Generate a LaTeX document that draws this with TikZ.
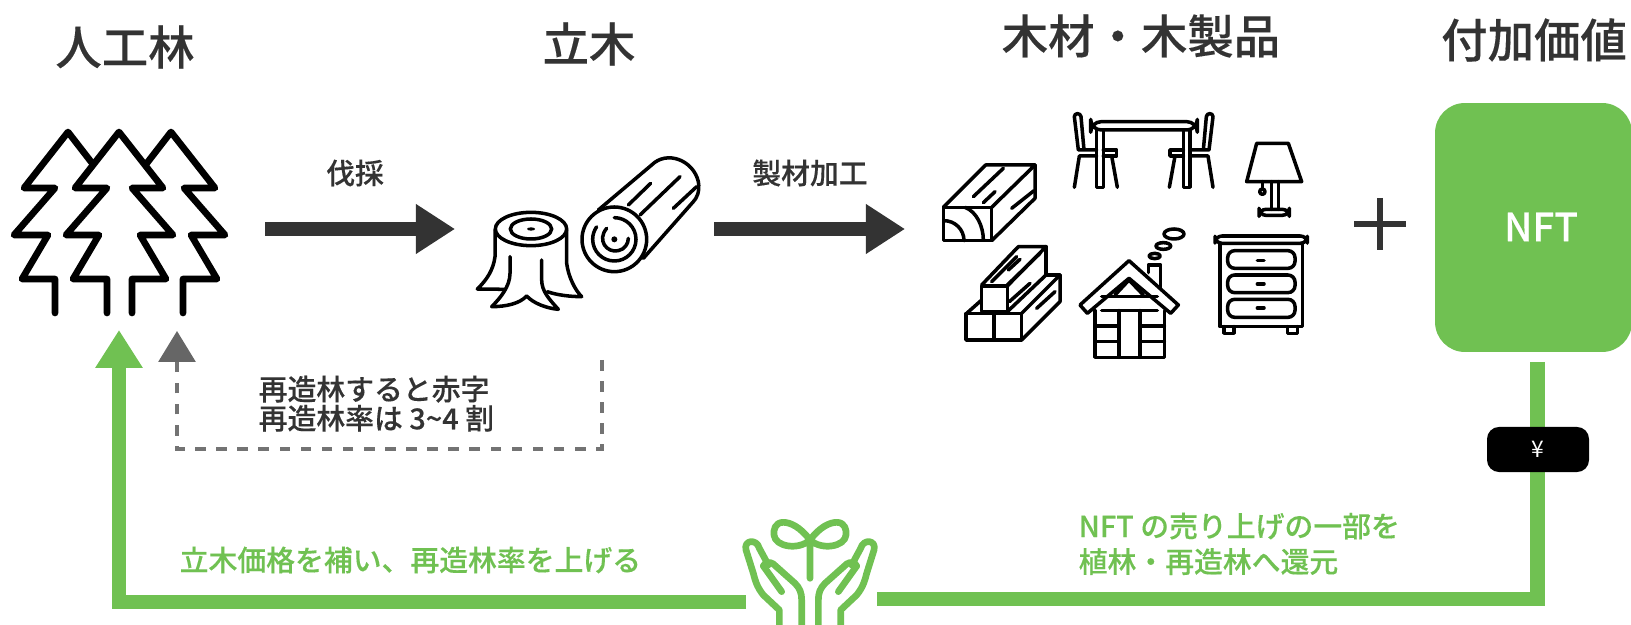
\documentclass[tikz,border=0pt]{standalone}
\usepackage{fontspec}
\setmainfont{Noto Sans CJK JP}[BoldFont={Noto Sans CJK JP Medium},BoldFeatures={FakeBold=0.25}]
\usetikzlibrary{arrows.meta}
\definecolor{leaf}{RGB}{112,193,82}
\definecolor{ink}{RGB}{51,51,51}
\tikzset{
	title/.style={text=ink,font=\fontsize{13.2}{15}\selectfont\bfseries,inner sep=0pt},
	caption/.style={text=ink,font=\fontsize{8.2}{8.3}\selectfont\bfseries,inner sep=0pt,align=left},
	leaftext/.style={text=leaf,font=\fontsize{8.2}{10.1}\selectfont\bfseries,inner sep=0pt,align=left},
	flow/.style={ink,line width=4pt,-{Triangle[length=11.1pt,width=13.4pt]}},
	giveback/.style={leaf,line width=4pt},
	icon/.style={line width=1.9pt,line join=round,line cap=round},
	fine/.style={line width=1pt,line join=round,line cap=round},
	sprout/.style={leaf,line width=1.9pt,line join=round,line cap=round},
}
\begin{document}
\begin{tikzpicture}[x=0.01cm,y=-0.01cm]
	\useasboundingbox (0,0) rectangle (1631,625);

	\node[title] (forest) at (125,47) {人工林};
	\node[title] (standing) at (589,44) {立木};
	\node[title] (timber) at (1141,36) {木材・木製品};
	\node[title] (value) at (1534,40) {付加価値};

	\draw[icon] (92,163) -- (68,132) -- (24,188) -- (55,188) -- (14,235) -- (48,235) -- (22,279) -- (55,279) -- (55,313);
	\draw[icon] (147,163) -- (171,132) -- (215,188) -- (184,188) -- (225,235) -- (191,235) -- (217,279) -- (183,279) -- (183,313);
	\draw[icon] (107,313) -- (107,279) -- (73,279) -- (99,235) -- (66,235) -- (107,188) -- (75,188) -- (119,132) -- (163,188) -- (132,188) -- (173,235) -- (140,235) -- (166,279) -- (132,279) -- (132,313);

	\coordinate (cutfrom) at (265,229);
	\coordinate (cutto) at (455,229);
	\node[caption] (cut) at (355,173) {伐採};
	\draw[flow] (cutfrom) -- (cutto);

	\begin{scope}[shift={(460,150)},scale=1/3]
		\draw[fine] (213,237) circle[x radius=107,y radius=50];
		\draw[fine] (213,237) circle[x radius=62,y radius=30];
		\fill (213,237) circle[x radius=12,y radius=5];
		\draw[fine] (105,240) -- (105,320) .. controls (100,360) and (80,390) .. (52,417) -- (135,418);
		\draw[fine] (150,320) -- (150,370) .. controls (150,410) and (120,445) .. (95,470) .. controls (140,470) and (180,460) .. (200,438) .. controls (220,460) and (260,475) .. (295,478) .. controls (270,450) and (245,425) .. (245,390) -- (245,330);
		\draw[fine] (320,240) -- (320,340) .. controls (325,380) and (345,420) .. (365,440) .. controls (330,440) and (290,435) .. (262,425);
		\draw[fine] (463,268) circle[radius=97];
		\draw[fine] (463,203) arc[start angle=-90,end angle=215,radius=65];
		\draw[fine] (440,235) .. controls (410,270) and (440,310) .. (475,302) .. controls (495,298) and (505,280) .. (505,265);
		\fill (463,268) circle[radius=9];
		\draw[fine] (415,180) -- (575,45) .. controls (620,0) and (700,30) .. (715,95) .. controls (720,125) and (710,145) .. (700,155) -- (550,325);
		\draw[fine] (505,165) -- (572,100);
		\draw[fine] (540,195) -- (660,80);
		\draw[fine] (640,175) -- (710,110);
	\end{scope}

	\coordinate (sawfrom) at (714,229);
	\coordinate (sawto) at (905,229);
	\node[caption] (saw) at (810,173) {製材加工};
	\draw[flow] (sawfrom) -- (sawto);

	\begin{scope}[shift={(920,100)},scale=1/3]
		\draw[fine] (70,322) rectangle (215,422);
		\draw[fine] (70,322) -- (197,195) -- (345,195) -- (215,322);
		\draw[fine] (345,195) -- (345,295) -- (215,422);
		\draw[fine] (72,362) arc[start angle=-90,end angle=0,radius=60];
		\draw[fine] (135,322) .. controls (170,335) and (190,380) .. (190,420);
		\draw[fine] (160,290) -- (250,205);
		\draw[fine] (190,308) -- (225,275);
		\draw[fine] (275,325) -- (342,272);

		\draw[fine,rounded corners=3pt] (512,65) rectangle (832,90);
		\draw[fine] (530,90) -- (530,262) -- (550,262) -- (550,90);
		\draw[fine] (790,90) -- (790,262) -- (810,262) -- (810,90);
		\draw[fine] (530,150) -- (475,150) -- (463,50) .. controls (463,38) and (482,38) .. (483,50) -- (492,150) -- (530,150);
		\draw[fine] (550,150) -- (590,150) -- (590,168) -- (550,168);
		\draw[fine] (530,168) -- (478,168) -- (463,262);
		\draw[fine] (575,168) -- (592,262);
		\draw[fine] (810,150) -- (867,150) -- (879,50) .. controls (879,38) and (860,38) .. (859,50) -- (850,150) -- (810,150);
		\draw[fine] (790,150) -- (750,150) -- (750,168) -- (790,168);
		\draw[fine] (810,168) -- (864,168) -- (879,262);
		\draw[fine] (765,168) -- (748,262);

		\draw[fine] (1010,130) -- (1105,130) -- (1145,245) -- (980,245) -- cycle;
		\draw[fine] (1055,245) -- (1055,328);
		\draw[fine] (1075,245) -- (1075,328);
		\draw[fine,rounded corners=2pt] (1017,328) rectangle (1108,346);
		\draw[fine] (1027,245) -- (1027,266);
		\draw[fine] (1027,275) circle[radius=8];

		\draw[fine,rounded corners=2pt] (885,408) rectangle (1162,430);
		\draw[fine] (900,430) -- (900,680) -- (1148,680) -- (1148,430);
		\draw[fine,rounded corners=2pt] (923,452) rectangle (1125,505);
		\draw[fine,rounded corners=2pt] (923,525) rectangle (1125,578);
		\draw[fine,rounded corners=2pt] (923,598) rectangle (1125,652);
		\draw[fine] (1012,481) -- (1032,481);
		\draw[fine] (1012,552) -- (1032,552);
		\draw[fine] (1012,624) -- (1032,624);
		\draw[fine] (912,680) -- (912,700) -- (942,700) -- (942,680);
		\draw[fine] (1103,680) -- (1103,700) -- (1133,700) -- (1133,680);

		\draw[fine] (627,482) -- (480,615) -- (502,640) -- (627,535) -- (752,640) -- (775,615) -- cycle;
		\draw[fine] (525,632) -- (525,772) -- (733,772) -- (733,632);
		\draw[fine] (545,632) -- (712,632);
		\draw[fine] (545,590) -- (712,590);
		\draw[fine] (585,585) -- (627,540) -- (670,585);
		\draw[fine] (597,632) -- (597,772);
		\draw[fine] (660,632) -- (660,772);
		\draw[fine] (525,678) -- (597,678);
		\draw[fine] (660,678) -- (733,678);
		\draw[fine] (525,725) -- (597,725);
		\draw[fine] (660,725) -- (733,725);
		\draw[fine] (685,518) -- (685,495) -- (722,495) -- (722,565);
		\draw[fine] (704,468) circle[x radius=17,y radius=8];
		\draw[fine] (730,438) circle[x radius=22,y radius=10];
		\draw[fine] (762,402) circle[x radius=30,y radius=15];

		\draw[fine] (138,640) rectangle (305,720);
		\draw[fine] (222,640) -- (222,720);
		\draw[fine] (185,558) rectangle (262,635);
		\draw[fine] (185,555) -- (295,440) -- (378,440) -- (262,558);
		\draw[fine] (378,440) -- (378,525);
		\draw[fine] (262,635) -- (378,525) -- (420,525) -- (305,640);
		\draw[fine] (420,525) -- (420,605) -- (305,720);
		\draw[fine] (140,640) -- (185,600);
		\draw[fine] (215,545) -- (290,470);
		\draw[fine] (262,555) -- (360,460);
		\draw[fine] (265,510) -- (300,478);
		\draw[fine] (268,605) -- (330,550);
		\draw[fine] (350,625) -- (405,575);
	\end{scope}

	\coordinate (plusleft) at (1354,224);
	\coordinate (plusright) at (1406,224);
	\coordinate (plustop) at (1380,198);
	\coordinate (plusbottom) at (1380,250);
	\draw[ink,line width=1.6pt] (plusleft) -- (plusright);
	\draw[ink,line width=1.6pt] (plustop) -- (plusbottom);

	\node[fill=leaf,rounded corners=8.5pt,minimum width=56pt,minimum height=70.8pt,inner sep=0pt] (nft) at (1533.5,227.5) {};
	\node[text=white,inner sep=0pt,font=\fontsize{11}{13}\selectfont\bfseries] (nftname) at (1541,227) {NFT};

	\coordinate (payfrom) at (1537.5,362);
	\coordinate (paycorner) at (1537.5,599);
	\coordinate (payto) at (877,599);
	\draw[giveback] (payfrom) -- (paycorner) -- (payto);
	\node[fill=black,rounded corners=3.4pt,minimum width=29pt,minimum height=12.8pt,inner sep=0pt,text=white,font=\fontsize{6.5}{8}\selectfont] (yen) at (1538,449.5) {¥};

	\coordinate (plantfrom) at (746,602);
	\coordinate (plantcorner) at (119,602);
	\coordinate (plantto) at (119,330);
	\draw[giveback,-{Triangle[length=10.8pt,width=12.8pt]}] (plantfrom) -- (plantcorner) -- (plantto);

	\coordinate (lossfrom) at (602,360);
	\coordinate (losscornera) at (602,449);
	\coordinate (losscornerb) at (177,449);
	\coordinate (lossto) at (177,331);
	\draw[black!55,line width=0.9pt,dashed,-{Triangle[length=8.8pt,width=10.5pt,black!60]}] (lossfrom) -- (losscornera) -- (losscornerb) -- (lossto);

	\node[caption,anchor=north west] (loss) at (258,375) {再造林すると赤字\\再造林率は 3\textasciitilde4 割};
	\node[leaftext,anchor=west] (raise) at (179,560) {立木価格を補い、再造林率を上げる};
	\node[leaftext,anchor=north west] (share) at (1078,512) {NFT の売り上げの一部を\\植林・再造林へ還元};

	\begin{scope}[shift={(700,490)},scale=1/3]
		\draw[sprout] (330,150) .. controls (300,110) and (270,97) .. (250,97) .. controls (225,97) and (220,120) .. (222,135) .. controls (225,170) and (295,182) .. (330,150) .. controls (360,110) and (390,97) .. (410,97) .. controls (435,97) and (440,120) .. (438,135) .. controls (435,170) and (365,182) .. (330,150) -- (330,265);
		\draw[sprout] (238,420) -- (238,360) -- (190,315) .. controls (170,290) and (165,270) .. (160,250) -- (138,180) .. controls (130,150) and (170,145) .. (178,175) -- (205,225);
		\draw[sprout] (190,228) -- (245,305);
		\draw[sprout] (190,228) .. controls (195,215) and (210,215) .. (220,222) -- (285,280) .. controls (300,295) and (305,310) .. (305,330) -- (305,420);
		\begin{scope}[shift={(660,0)},xscale=-1]
			\draw[sprout] (238,420) -- (238,360) -- (190,315) .. controls (170,290) and (165,270) .. (160,250) -- (138,180) .. controls (130,150) and (170,145) .. (178,175) -- (205,225);
			\draw[sprout] (190,228) -- (245,305);
			\draw[sprout] (190,228) .. controls (195,215) and (210,215) .. (220,222) -- (285,280) .. controls (300,295) and (305,310) .. (305,330) -- (305,420);
		\end{scope}
	\end{scope}
\end{tikzpicture}
\end{document}
